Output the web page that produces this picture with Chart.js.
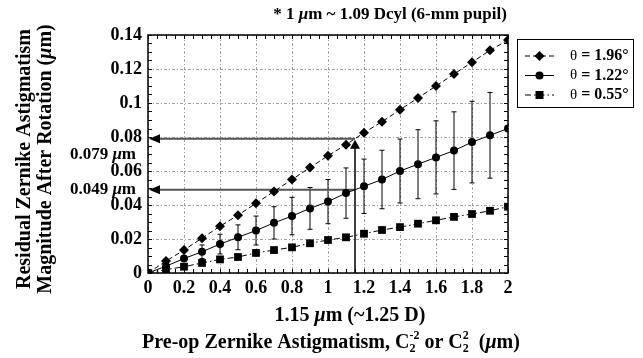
<!DOCTYPE html>
<html>
<head>
<meta charset="utf-8">
<script src="https://cdn.jsdelivr.net/npm/chart.js@4.4.0/dist/chart.umd.min.js"></script>
<style>
  html, body { margin: 0; padding: 0; background: #fff; }
</style>
</head>
<body>
<canvas id="chart" width="643" height="358"></canvas>
<script>
// values
const xValues = [0, 0.1, 0.2, 0.3, 0.4, 0.5, 0.6, 0.7, 0.8, 0.9, 1, 1.1, 1.2, 1.3, 1.4, 1.5, 1.6, 1.7, 1.8, 1.9, 2];
const theta196 = [0, 0.007, 0.0135, 0.0205, 0.0275, 0.034, 0.041, 0.048, 0.055, 0.062, 0.069, 0.0755, 0.0825, 0.089, 0.096, 0.103, 0.110, 0.117, 0.124, 0.131, 0.137];
const theta122 = [0, 0.004, 0.0085, 0.0125, 0.017, 0.021, 0.025, 0.0295, 0.0335, 0.038, 0.042, 0.047, 0.051, 0.055, 0.060, 0.064, 0.068, 0.072, 0.077, 0.081, 0.085];
const theta122Err = [0, 0, 0, 0.004, 0.0058, 0.0073, 0.0085, 0.0095, 0.011, 0.0123, 0.013, 0.0148, 0.016, 0.0172, 0.0188, 0.0203, 0.0215, 0.0228, 0.024, 0.0252, 0];
const theta055 = [0, 0.002, 0.0037, 0.0059, 0.008, 0.0094, 0.0118, 0.0135, 0.0151, 0.0175, 0.0194, 0.021, 0.0231, 0.0253, 0.027, 0.029, 0.031, 0.033, 0.0347, 0.0366, 0.039];
const seriesLabels = ['θ = 1.96°', 'θ = 1.22°', 'θ = 0.55°'];

// marked example: 1.15 um pre-op -> 0.079 / 0.049 um residual
const markX = 1.15;
const markHigh = 0.079;
const markLow = 0.049;

const SERIF = '"Liberation Serif", "Times New Roman", serif';
const bold = s => `bold ${s}px ${SERIF}`;
const boldIt = s => `italic bold ${s}px ${SERIF}`;

const toPoints = ys => ys.map((y, i) => ({ x: xValues[i], y: y }));

// draws text made of pieces with different fonts; {sup, sub} pieces are stacked
function partWidth(ctx, p) {
    ctx.font = p.f;
    if (p.t !== undefined) return ctx.measureText(p.t).width;
    return Math.max(ctx.measureText(p.sup).width, ctx.measureText(p.sub).width);
}
function drawRich(ctx, parts, x, y, align) {
    let total = 0;
    parts.forEach(p => total += partWidth(ctx, p));
    let cx = align === 'center' ? x - total / 2 : (align === 'right' ? x - total : x);
    ctx.textBaseline = 'middle';
    ctx.textAlign = 'left';
    parts.forEach(p => {
        const w = partWidth(ctx, p);
        ctx.font = p.f;
        if (p.t !== undefined) {
            ctx.fillText(p.t, cx, y);
        } else {
            ctx.fillText(p.sup, cx, y - 7);
            ctx.fillText(p.sub, cx, y + 6);
        }
        cx += w;
    });
}

function marker(ctx, style, x, y) {
    ctx.beginPath();
    if (style === 'rectRot') {
        ctx.moveTo(x, y - 5); ctx.lineTo(x + 5, y); ctx.lineTo(x, y + 5); ctx.lineTo(x - 5, y);
        ctx.closePath();
    } else if (style === 'rect') {
        ctx.rect(x - 4, y - 4, 8, 8);
    } else {
        ctx.arc(x, y, 4, 0, Math.PI * 2);
    }
    ctx.fill();
}

const decorPlugin = {
    id: 'decor',
    beforeDatasetsDraw(chart) {
        const { ctx, scales: { x, y } } = chart;
        // error bars on the 1.22 deg series
        ctx.save();
        ctx.strokeStyle = '#000';
        ctx.lineWidth = 1;
        theta122.forEach((v, i) => {
            const e = theta122Err[i];
            if (!e) return;
            const px = x.getPixelForValue(xValues[i]);
            const top = y.getPixelForValue(v + e);
            const bot = y.getPixelForValue(v - e);
            ctx.beginPath();
            ctx.moveTo(px, top); ctx.lineTo(px, bot);
            ctx.moveTo(px - 2.5, top); ctx.lineTo(px + 2.5, top);
            ctx.moveTo(px - 2.5, bot); ctx.lineTo(px + 2.5, bot);
            ctx.stroke();
        });

        // arrows for the marked example
        const mx = x.getPixelForValue(markX);
        const left = chart.chartArea.left;
        ctx.strokeStyle = '#555';
        ctx.lineWidth = 2;
        [markHigh, markLow].forEach(v => {
            const py = y.getPixelForValue(v);
            ctx.beginPath();
            ctx.moveTo(mx, py); ctx.lineTo(left + 8, py);
            ctx.stroke();
            ctx.fillStyle = '#000';
            ctx.beginPath();
            ctx.moveTo(left + 1, py); ctx.lineTo(left + 12, py - 4.5); ctx.lineTo(left + 12, py + 4.5);
            ctx.closePath();
            ctx.fill();
        });
        const bottom = y.getPixelForValue(0);
        const tip = y.getPixelForValue(markHigh) + 1;
        ctx.strokeStyle = '#000';
        ctx.lineWidth = 1.5;
        ctx.beginPath();
        ctx.moveTo(mx, bottom); ctx.lineTo(mx, tip + 6);
        ctx.stroke();
        ctx.beginPath();
        ctx.moveTo(mx, tip); ctx.lineTo(mx + 5, tip + 9); ctx.lineTo(mx - 5, tip + 9);
        ctx.closePath();
        ctx.fill();
        ctx.restore();
    },
    afterDraw(chart) {
        const { ctx, chartArea: a, scales: { x, y } } = chart;
        ctx.save();
        // frame and inside ticks on all sides
        ctx.strokeStyle = '#000';
        ctx.lineWidth = 1.5;
        ctx.strokeRect(a.left, a.top, a.right - a.left, a.bottom - a.top);
        ctx.lineWidth = 1;
        ctx.beginPath();
        for (let v = 0; v <= 0.1401; v += 0.005) {
            const py = Math.round(y.getPixelForValue(v)) + 0.5;
            ctx.moveTo(a.left, py); ctx.lineTo(a.left + 4, py);
            ctx.moveTo(a.right, py); ctx.lineTo(a.right - 4, py);
        }
        for (let v = 0; v <= 2.001; v += 0.05) {
            const px = Math.round(x.getPixelForValue(v)) + 0.5;
            ctx.moveTo(px, a.bottom); ctx.lineTo(px, a.bottom - 4);
            ctx.moveTo(px, a.top); ctx.lineTo(px, a.top + 4);
        }
        ctx.stroke();

        ctx.fillStyle = '#000';
        // header note
        drawRich(ctx, [
            { t: '* 1 ', f: bold(17) }, { t: 'μ', f: boldIt(17) },
            { t: 'm ~ 1.09 Dcyl (6-mm pupil)', f: bold(17) }
        ], 390, 15, 'center');

        // value labels beside the y axis
        drawRich(ctx, [{ t: '0.079 ', f: bold(17) }, { t: 'μ', f: boldIt(17) }, { t: 'm', f: bold(17) }],
            136, y.getPixelForValue(markHigh) + 16, 'right');
        drawRich(ctx, [{ t: '0.049 ', f: bold(17) }, { t: 'μ', f: boldIt(17) }, { t: 'm', f: bold(17) }],
            136, y.getPixelForValue(markLow), 'right');

        // x axis notes
        drawRich(ctx, [{ t: '1.15 ', f: bold(20) }, { t: 'μ', f: boldIt(20) }, { t: 'm (~1.25 D)', f: bold(20) }],
            350, 316, 'center');
        drawRich(ctx, [
            { t: 'Pre-op Zernike Astigmatism, C', f: bold(20) },
            { sup: '-2', sub: '2', f: bold(12) },
            { t: ' or C', f: bold(20) },
            { sup: '2', sub: '2', f: bold(12) },
            { t: '  (', f: bold(20) }, { t: 'μ', f: boldIt(20) }, { t: 'm)', f: bold(20) }
        ], 331, 343, 'center');

        // y axis title, two rotated lines
        ctx.translate(0, 159);
        ctx.rotate(-Math.PI / 2);
        drawRich(ctx, [{ t: 'Residual Zernike Astigmatism', f: bold(20) }], 0, 25, 'center');
        drawRich(ctx, [
            { t: 'Magnitude After Rotation (', f: bold(20) }, { t: 'μ', f: boldIt(20) }, { t: 'm)', f: bold(20) }
        ], 0, 46, 'center');
        ctx.setTransform(1, 0, 0, 1, 0, 0);

        // legend box
        ctx.lineWidth = 1;
        ctx.strokeStyle = '#000';
        ctx.fillStyle = '#fff';
        ctx.fillRect(517, 39, 116, 68);
        ctx.strokeRect(517.5, 39.5, 116, 68);
        chart.data.datasets.forEach((ds, i) => {
            const ly = 56 + i * 19.5;
            ctx.strokeStyle = '#000';
            ctx.setLineDash(ds.borderDash || []);
            ctx.beginPath();
            ctx.moveTo(525, ly); ctx.lineTo(554, ly);
            ctx.stroke();
            ctx.setLineDash([]);
            ctx.fillStyle = '#000';
            marker(ctx, ds.pointStyle, 539.5, ly);
            drawRich(ctx, [{ t: 'θ', f: `15px ${SERIF}` }, { t: ds.label.slice(1), f: bold(16) }], 570, ly, 'left');
        });
        ctx.restore();
    }
};

const fmt = v => String(Math.round(v * 1000) / 1000);

new Chart(document.getElementById('chart'), {
    type: 'line',
    data: {
        datasets: [
            {
                label: seriesLabels[0],
                data: toPoints(theta196),
                borderColor: '#000', backgroundColor: '#000', borderWidth: 1,
                borderDash: [5, 3],
                pointStyle: 'rectRot', pointRadius: 5, pointBorderWidth: 0
            },
            {
                label: seriesLabels[1],
                data: toPoints(theta122),
                borderColor: '#000', backgroundColor: '#000', borderWidth: 1,
                pointStyle: 'circle', pointRadius: 4, pointBorderWidth: 0
            },
            {
                label: seriesLabels[2],
                data: toPoints(theta055),
                borderColor: '#000', backgroundColor: '#000', borderWidth: 1,
                borderDash: [6, 3, 1.5, 3],
                pointStyle: 'rect', pointRadius: 5.5, pointBorderWidth: 0
            }
        ]
    },
    options: {
        responsive: false,
        animation: false,
        devicePixelRatio: 1,
        layout: { padding: { left: 0, right: 135, top: 35, bottom: 0 } },
        plugins: {
            legend: { display: false },
            tooltip: { enabled: false }
        },
        scales: {
            x: {
                type: 'linear', min: 0, max: 2,
                afterFit: s => { s.height = 85; },
                ticks: { stepSize: 0.2, callback: fmt, color: '#000', padding: 5, maxRotation: 0,
                    font: { family: SERIF, size: 18, weight: 'bold' } },
                grid: { color: '#888', lineWidth: 0.8, drawTicks: false },
                border: { display: false, dash: [3, 2, 1, 2] }
            },
            y: {
                min: 0, max: 0.14,
                afterFit: s => { s.width = 148; },
                ticks: { stepSize: 0.02, callback: fmt, color: '#000', padding: 6,
                    font: { family: SERIF, size: 18, weight: 'bold' } },
                grid: { color: '#888', lineWidth: 0.8, drawTicks: false },
                border: { display: false, dash: [3, 2, 1, 2] }
            }
        }
    },
    plugins: [decorPlugin]
});
</script>
</body>
</html>
